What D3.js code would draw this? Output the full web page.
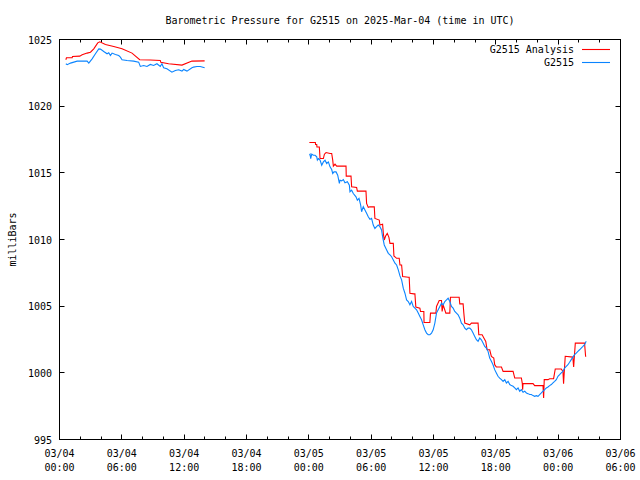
<!DOCTYPE html>
<html>
<head>
<meta charset="utf-8">
<script src="https://cdn.jsdelivr.net/npm/d3@7"></script>
<style>
  html, body { margin: 0; padding: 0; background: #fff; }
  svg { display: block; }
  text { font-family: "DejaVu Sans Mono", "Liberation Mono", monospace; font-size: 10px; fill: #000; }
</style>
</head>
<body>
<svg id="chart" width="640" height="480"></svg>
<script>
// ---------------- DATA ----------------
const chartTitle = "Barometric Pressure for G2515 on 2025-Mar-04 (time in UTC)";
const yAxisLabel = "milliBars";
const startTime = "2025-03-04T00:00:00Z";   // hours below are offsets from this time
const xDomainHours = [0, 54];
const yDomain = [995, 1025];
const yTickValues = [995, 1000, 1005, 1010, 1015, 1020, 1025];
const seriesNames = ["G2515 Analysis", "G2515"];
const seriesColors = ["#ff0000", "#0a84ff"];

// G2515 Analysis (null = data gap)
const analysisHours = [
  0.61, 0.67, 1.22, 1.25, 1.95, 2.18, 2.66, 2.98, 3.30, 3.68, 3.88, 4.42, 5.22, 6.02, 6.98, 7.72,
  8.74, 9.70, 9.75, 10.50, 11.79, 12.75, 13.97,
  null,
  24.05, 24.63, 24.65, 24.76, 24.78, 25.01, 25.08, 25.40, 25.50, 25.66, 26.04, 26.20, 26.30, 26.36,
  26.52, 26.68, 27.58, 27.60, 28.06, 28.12, 28.60, 28.67, 29.50, 29.56, 29.72, 29.88, 30.30, 30.36,
  30.78, 30.84, 31.10, 31.17, 31.26, 31.39, 31.55, 31.71, 31.81, 32.13, 32.19, 32.45, 32.70, 32.77,
  32.93, 33.03, 33.57, 33.66, 33.73, 34.11, 34.21, 34.30, 34.69, 34.75, 35.07, 35.09, 35.65, 35.71,
  36.23, 36.29, 36.55, 36.77, 36.83, 36.93, 37.19, 37.57, 37.63, 38.47, 38.53, 38.85, 38.92, 39.01,
  39.49, 39.65, 40.29, 40.36, 40.68, 40.77, 41.03, 41.16, 41.41, 41.57, 41.80, 41.89, 42.05, 42.54,
  42.70, 43.66, 43.82, 44.46, 44.55, 44.58, 44.62, 45.58, 45.74, 46.54, 46.60, 46.66, 47.02, 47.18,
  47.56, 47.72, 48.30, 48.46, 48.52, 48.68, 49.41, 49.49, 49.65, 50.54, 50.64, 50.70
];
const analysisPressure = [
  1023.48, 1023.63, 1023.63, 1023.73, 1023.75, 1023.85, 1023.98, 1024.05, 1024.30, 1024.75, 1024.83,
  1024.63, 1024.48, 1024.30, 1023.98, 1023.48, 1023.46, 1023.43, 1023.30, 1023.18, 1023.08, 1023.38, 1023.40,
  null,
  1017.27, 1017.27, 1017.12, 1017.12, 1016.94, 1016.94, 1016.07, 1016.07, 1016.40, 1016.52, 1016.45,
  1016.45, 1015.95, 1015.50, 1015.65, 1015.50, 1015.50, 1014.75, 1014.75, 1013.95, 1013.90, 1013.63,
  1013.63, 1012.71, 1012.41, 1012.45, 1012.45, 1011.58, 1011.46, 1011.08, 1011.14, 1010.46, 1009.96,
  1010.26, 1010.46, 1010.16, 1009.71, 1009.71, 1008.77, 1008.59, 1008.59, 1008.09, 1008.09, 1007.22,
  1007.17, 1007.17, 1005.97, 1005.92, 1005.92, 1004.93, 1004.85, 1004.60, 1004.60, 1003.78, 1003.78,
  1004.48, 1004.48, 1004.98, 1005.42, 1005.42, 1004.60, 1005.10, 1004.48, 1004.48, 1005.67, 1005.67,
  1005.17, 1005.17, 1004.48, 1003.73, 1003.60, 1003.73, 1003.73, 1002.86, 1002.86, 1002.73, 1002.36,
  1001.73, 1001.73, 1001.23, 1001.11, 1000.61, 1000.44, 1000.44, 1000.11, 1000.11, 999.61, 999.61,
  999.19, 998.74, 999.19, 999.19, 999.04, 999.04, 998.12, 999.49, 999.49, 999.56, 999.56, 1000.29,
  1000.29, 1000.11, 999.19, 1001.24, 1001.18, 1000.44, 1002.23, 1002.23, 1001.24, 1001.24
];

// G2515 observations (null = data gap)
const stationHours = [
  0.61, 0.74, 1.06, 1.70, 2.66, 2.82, 3.14, 3.46, 3.78, 3.94, 4.26, 4.58, 4.74, 4.90, 5.06, 5.38,
  5.70, 5.86, 6.02, 6.50, 7.14, 7.62, 7.78, 8.10, 8.42, 8.74, 9.06, 9.38, 9.70, 9.86, 10.02, 10.34,
  10.82, 11.15, 11.47, 11.79, 11.95, 12.27, 12.75, 12.91, 13.23, 13.55, 13.97,
  null,
  24.05, 24.12, 24.18, 24.28, 24.44, 24.60, 24.76, 24.82, 24.92, 25.08, 25.24, 25.40, 25.56, 25.72,
  25.88, 26.04, 26.20, 26.30, 26.42, 26.62, 26.78, 26.94, 27.00, 27.16, 27.32, 27.48, 27.71, 27.90,
  27.96, 28.12, 28.28, 28.54, 28.67, 28.83, 28.99, 29.08, 29.24, 29.40, 29.56, 29.72, 29.88, 30.04,
  30.20, 30.36, 30.52, 30.68, 30.84, 31.00, 31.10, 31.26, 31.49, 31.65, 31.81, 31.97, 32.13, 32.29,
  32.45, 32.61, 32.77, 32.93, 33.09, 33.25, 33.41, 33.57, 33.73, 33.89, 34.05, 34.21, 34.37, 34.53,
  34.69, 34.85, 35.01, 35.17, 35.33, 35.49, 35.65, 35.81, 35.97, 36.13, 36.29, 36.45, 36.61, 36.77,
  36.93, 37.09, 37.25, 37.41, 37.57, 37.73, 37.89, 38.05, 38.21, 38.37, 38.53, 38.69, 38.85, 39.01,
  39.17, 39.33, 39.49, 39.65, 39.81, 39.97, 40.13, 40.29, 40.45, 40.61, 40.77, 40.93, 41.09, 41.25,
  41.41, 41.57, 41.73, 41.89, 42.05, 42.21, 42.37, 42.54, 42.70, 42.86, 43.02, 43.18, 43.34, 43.50,
  43.66, 43.82, 43.98, 44.14, 44.30, 44.46, 44.62, 44.78, 44.94, 45.10, 45.26, 45.42, 45.58, 45.74,
  45.90, 46.06, 46.22, 46.38, 46.54, 46.70, 46.86, 47.02, 47.18, 47.34, 47.50, 47.66, 47.82, 47.98,
  48.14, 48.30, 48.46, 48.62, 48.78, 48.94, 49.10, 49.26, 49.42, 49.58, 49.74, 49.90, 50.06, 50.22,
  50.38, 50.54, 50.70
];
const stationPressure = [
  1023.18, 1023.11, 1023.23, 1023.38, 1023.38, 1023.23, 1023.55, 1023.93, 1024.30, 1024.28, 1024.10,
  1023.93, 1024.00, 1023.80, 1023.98, 1023.88, 1023.80, 1023.68, 1023.48, 1023.43, 1023.38, 1023.30,
  1022.98, 1023.05, 1022.98, 1023.13, 1023.05, 1023.18, 1022.98, 1023.18, 1022.88, 1022.81, 1022.55,
  1022.68, 1022.73, 1022.63, 1022.75, 1022.63, 1022.88, 1022.93, 1022.98, 1022.98, 1022.88,
  null,
  1016.32, 1016.40, 1016.07, 1016.40, 1016.32, 1016.32, 1016.20, 1015.95, 1016.07, 1015.95, 1015.57,
  1015.82, 1015.95, 1015.70, 1015.82, 1015.45, 1015.25, 1014.95, 1015.07, 1015.07, 1014.82, 1014.20,
  1014.45, 1014.40, 1014.50, 1014.25, 1014.33, 1014.08, 1013.58, 1013.70, 1013.45, 1013.20, 1012.95,
  1013.08, 1012.58, 1012.08, 1012.46, 1012.21, 1011.96, 1011.71, 1011.51, 1011.58, 1011.08, 1010.83,
  1010.96, 1011.08, 1010.96, 1010.71, 1010.21, 1009.59, 1009.21, 1008.96, 1008.84, 1008.71, 1008.46,
  1008.22, 1008.09, 1007.72, 1007.27, 1006.97, 1006.35, 1005.97, 1005.47, 1005.35, 1005.10, 1005.35,
  1004.98, 1004.85, 1004.73, 1004.48, 1004.23, 1003.98, 1003.60, 1003.23, 1002.98, 1002.86, 1002.86,
  1002.98, 1003.23, 1003.73, 1004.48, 1004.73, 1004.98, 1005.22, 1005.10, 1005.35, 1005.47, 1005.60,
  1005.35, 1004.98, 1004.85, 1004.60, 1004.48, 1004.35, 1004.10, 1003.73, 1003.60, 1003.35, 1003.23,
  1003.35, 1003.35, 1003.23, 1002.98, 1002.73, 1002.48, 1002.36, 1002.61, 1002.48, 1002.23, 1001.98,
  1001.86, 1001.61, 1001.11, 1000.86, 1000.61, 1000.24, 999.99, 999.74, 999.61, 999.49, 999.36, 999.49,
  999.24, 999.36, 999.12, 999.04, 998.99, 998.87, 998.74, 998.87, 998.62, 998.74, 998.54, 998.62,
  998.49, 998.44, 998.37, 998.37, 998.29, 998.24, 998.29, 998.24, 998.37, 998.49, 998.62, 998.74,
  998.87, 998.94, 999.04, 999.12, 999.24, 999.36, 999.49, 999.74, 999.86, 999.99, 1000.11, 1000.36,
  1000.49, 1000.61, 1000.79, 1000.99, 1001.18, 1001.36, 1001.48, 1001.61, 1001.73, 1001.86, 1001.98,
  1002.11, 1002.36
];

// ---------------- CHART ----------------
const svg = d3.select("#chart");
const pL = 59.5, pR = 620.5, pT = 39.5, pB = 439.5;
const t0 = new Date(startTime).getTime();
const toDate = h => new Date(t0 + h * 3600000);

const x = d3.scaleUtc().domain(xDomainHours.map(toDate)).range([pL, pR]);
const y = d3.scaleLinear().domain(yDomain).range([pB, pT]);

// Frame
svg.append("rect").attr("x", pL).attr("y", pT)
  .attr("width", pR - pL).attr("height", pB - pT)
  .attr("fill", "none").attr("stroke", "#000").attr("stroke-width", 1);

// X ticks (major 6h, minor 2h), mirrored on top
const endDate = new Date(toDate(xDomainHours[1]).getTime() + 1);
const majorX = d3.utcHour.every(6).range(toDate(xDomainHours[0]), endDate);
const minorX = d3.utcHour.every(2).range(toDate(xDomainHours[0]), endDate);
const tickG = svg.append("g").attr("stroke", "#000").attr("stroke-width", 1);
minorX.forEach(d => {
  const xx = Math.round(x(d) - 0.5) + 0.5;
  const isMajor = d.getUTCHours() % 6 === 0;
  const len = isMajor ? 5 : 3;
  tickG.append("line").attr("x1", xx).attr("x2", xx).attr("y1", pB).attr("y2", pB - len);
  tickG.append("line").attr("x1", xx).attr("x2", xx).attr("y1", pT).attr("y2", pT + len);
});
const fmtDay = d3.utcFormat("%m/%d"), fmtTime = d3.utcFormat("%H:%M");
const xl = svg.append("g");
majorX.forEach(d => {
  const xx = x(d);
  xl.append("text").attr("x", xx).attr("y", 457).attr("text-anchor", "middle").text(fmtDay(d));
  xl.append("text").attr("x", xx).attr("y", 471).attr("text-anchor", "middle").text(fmtTime(d));
});

// Y ticks mirrored on right
yTickValues.forEach(v => {
  const yy = Math.round(y(v) - 0.5) + 0.5;
  tickG.append("line").attr("x1", pL).attr("x2", pL + 5).attr("y1", yy).attr("y2", yy);
  tickG.append("line").attr("x1", pR).attr("x2", pR - 5).attr("y1", yy).attr("y2", yy);
  svg.append("text").attr("x", 52).attr("y", y(v) + 4).attr("text-anchor", "end").text(v);
});

// Titles
svg.append("text").attr("x", (pL + pR) / 2).attr("y", 24).attr("text-anchor", "middle").text(chartTitle);
svg.append("text").attr("transform", `translate(16,${(pT + pB) / 2}) rotate(-90)`)
  .attr("text-anchor", "middle").text(yAxisLabel);

// Lines
const line = d3.line()
  .defined(d => d.h !== null && d.p !== null)
  .x(d => x(toDate(d.h))).y(d => y(d.p));
const analysisData = analysisHours.map((h, i) => ({ h, p: analysisPressure[i] }));
const stationData = stationHours.map((h, i) => ({ h, p: stationPressure[i] }));

svg.append("path").datum(analysisData).attr("d", line)
  .attr("fill", "none").attr("stroke", seriesColors[0]).attr("stroke-width", 1.1);
svg.append("path").datum(stationData).attr("d", line)
  .attr("fill", "none").attr("stroke", seriesColors[1]).attr("stroke-width", 1.1);

// Legend
const legend = svg.append("g");
seriesNames.forEach((name, i) => {
  const ly = 49 + i * 13;
  legend.append("text").attr("x", 574).attr("y", ly + 4).attr("text-anchor", "end").text(name);
  legend.append("line").attr("x1", 582).attr("x2", 610).attr("y1", ly + 0.5).attr("y2", ly + 0.5)
    .attr("stroke", seriesColors[i]).attr("stroke-width", 1.1);
});
</script>
</body>
</html>
